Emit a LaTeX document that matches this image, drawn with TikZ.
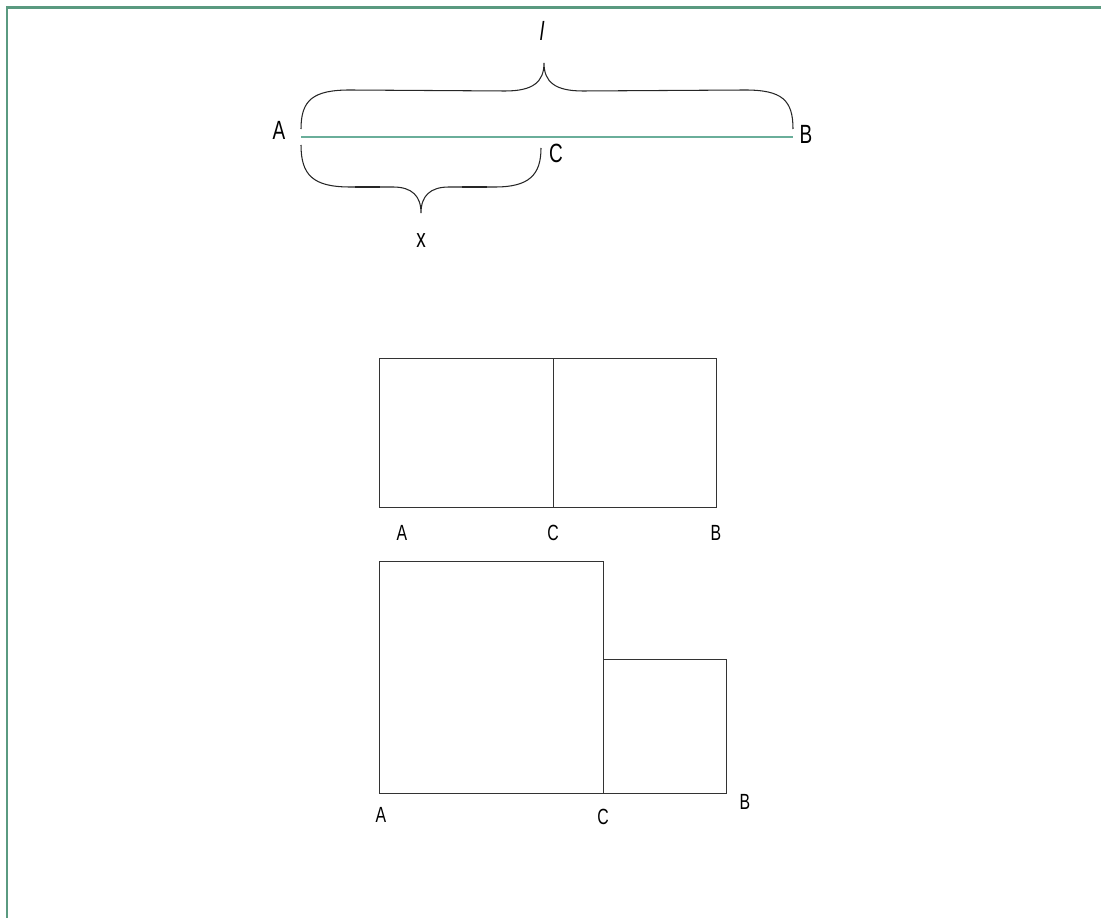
\documentclass[tikz,border=0pt]{standalone}
\usepackage{fontspec}
\setmainfont[FakeStretch=0.72]{Liberation Sans}
\usetikzlibrary{positioning,calc}
\definecolor{framegreen}{HTML}{5A9A80}
\definecolor{segteal}{HTML}{6AAE9A}
\tikzset{frame/.style={draw=framegreen, line width=1.5pt},
         seg/.style={draw=segteal, line width=0.8pt},
         sq/.style={draw=black!80, line width=0.55pt},
         brace/.style={draw=black!85, line width=0.6pt},
         lbl/.style={font=\fontsize{15}{17}\selectfont, inner sep=0pt},
         slbl/.style={font=\fontsize{12.5}{14}\selectfont, inner sep=0pt}
}

\begin{document}
\begin{tikzpicture}[x=0.02cm,y=-0.02cm]
   \useasboundingbox (0,0) rectangle (1101,918);
   \draw[frame] (1101,7.5) -- (7,7.5) -- (7,918);
   % segment AB with braces
   \coordinate (A) at (301,137);
   \coordinate (B) at (793,137);
   \draw[seg] (A) -- (B);
   \node[lbl] (lA) at (279,130) {A};
   \node[lbl] (lB) at (806,134) {B};
   \node[lbl] (lC) at (556,153) {C};
   \draw[brace] (301,129) .. controls (301,100) and (313,90) .. (350,90) -- (505,91)
        .. controls (533,91) and (544,82) .. (544,63)
        .. controls (544,82) and (555,91) .. (583,91) -- (745,90)
        .. controls (782,90) and (793,100) .. (793,129);
   \node[lbl, font=\fontsize{15}{17}\selectfont\itshape] (ll) at (542,31) {l};
   \draw[brace] (301,145) .. controls (301,175) and (313,187) .. (350,187) -- (393,187)
        .. controls (412,187) and (421,196) .. (421,213)
        .. controls (421,196) and (430,187) .. (449,187) -- (495,187)
        .. controls (529,187) and (541,175) .. (541,148);
   \draw[brace, line width=1.3pt] (355,187) -- (380,187) (462,187) -- (487,187);
   \node[lbl] (lx) at (421,241) {x};
   % two rectangles
   \coordinate (A1) at (379,507);
   \coordinate (C1) at (553,507);
   \coordinate (B1) at (716,507);
   \draw[sq] (A1) rectangle (553,358);
   \draw[sq] (C1) rectangle (716,358);
   \node[slbl] (la1) at (402,533) {A};
   \node[slbl] (lc1) at (553,533) {C};
   \node[slbl] (lb1) at (716,533) {B};
   % two squares
   \coordinate (A2) at (379,793);
   \coordinate (C2) at (603,793);
   \coordinate (B2) at (726,793);
   \draw[sq] (A2) rectangle (603,561);
   \draw[sq] (C2) rectangle (726,659);
   \node[slbl] (la2) at (381,815) {A};
   \node[slbl] (lc2) at (603,817) {C};
   \node[slbl] (lb2) at (745,802) {B};
\end{tikzpicture}
\end{document}
